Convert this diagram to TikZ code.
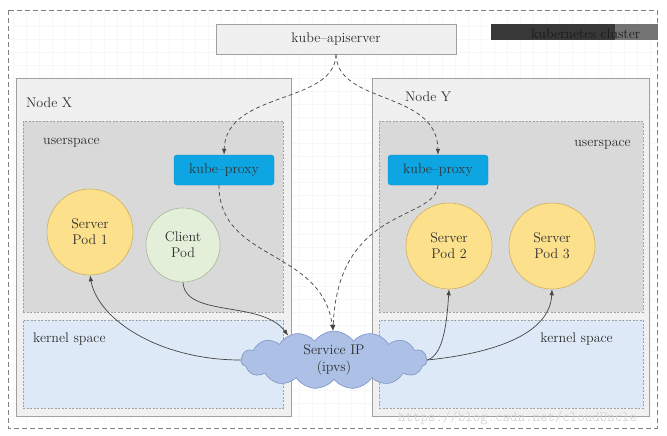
\documentclass[tikz,border=0pt]{standalone}
\usetikzlibrary{shapes.symbols,arrows.meta}
\definecolor{nodefill}{HTML}{F0F0F0}
\definecolor{nodeline}{HTML}{A0A0A0}
\definecolor{userfill}{HTML}{D9D9D9}
\definecolor{kernfill}{HTML}{DDE9F6}
\definecolor{proxyfill}{HTML}{0EA5E3}
\definecolor{proxyline}{HTML}{0B8FCB}
\definecolor{serverfill}{HTML}{FCE08C}
\definecolor{serverline}{HTML}{CDB060}
\definecolor{clientfill}{HTML}{E3EFD9}
\definecolor{clientline}{HTML}{A8B89A}
\definecolor{cloudfill}{HTML}{ADC0E6}
\definecolor{cloudline}{HTML}{7D93C5}
\definecolor{txt}{HTML}{2E2E2E}
\definecolor{arr}{HTML}{444444}
\definecolor{gridc}{HTML}{F6F7F9}
\begin{document}
\begin{tikzpicture}[x=1pt,y=-1pt,
  font=\fontsize{14}{16}\selectfont, text=txt,
  nodebox/.style={draw=nodeline, fill=nodefill, line width=0.6pt, inner sep=0pt},
  userbox/.style={draw=nodeline, fill=userfill, dashed, dash pattern=on 2pt off 1.5pt, line width=0.5pt, inner sep=0pt},
  kernbox/.style={draw=nodeline, fill=kernfill, dashed, dash pattern=on 2pt off 1.5pt, line width=0.5pt, inner sep=0pt},
  proxybox/.style={draw=proxyline, fill=proxyfill, rounded corners=3pt, minimum width=100pt, minimum height=30pt, inner sep=0pt, text=black!80},
  serverpod/.style={circle, draw=serverline, fill=serverfill, minimum size=86pt, inner sep=0pt, align=center, line width=0.6pt},
  clientpod/.style={circle, draw=clientline, fill=clientfill, minimum size=74pt, inner sep=0pt, align=center, line width=0.6pt},
  lbl/.style={anchor=base west, inner sep=0pt},
  flow/.style={draw=arr, line width=0.7pt, -{Latex[length=6pt,width=4.5pt]}},
  ctrl/.style={flow, dash pattern=on 4pt off 3pt}
]
\useasboundingbox (0,0) rectangle (667,436);
\fill[white] (0,0) rectangle (667,436);
\draw[gridc, line width=0.4pt, step=13pt] (8,10) grid (657,428);
\draw[nodeline!80!black, line width=0.9pt, dash pattern=on 5pt off 3pt] (8,10) rectangle (657,428);

% cluster label
\fill[black!78] (491,24) rectangle (615,40);
\fill[black!55] (615,24) rectangle (658,40);
\node[lbl, text=black!90] (cluster) at (531,39) {kubernetes cluster};

% api server
\node[nodebox, fill=nodefill, minimum width=240pt, minimum height=30pt] (api) at (336,39) {kube--apiserver};

% node boxes
\node[nodebox, minimum width=275pt, minimum height=338pt] (nodeX) at (153.5,247) {};
\node[nodebox, minimum width=277pt, minimum height=338pt] (nodeY) at (511,247) {};
\node[lbl] (nxl) at (26,107) {Node X};
\node[lbl] (nyl) at (405,101) {Node Y};

% user / kernel spaces
\node[userbox, minimum width=260pt, minimum height=191pt] (usX) at (153,216.5) {};
\node[kernbox, minimum width=260pt, minimum height=88pt] (ksX) at (153,364) {};
\node[userbox, minimum width=264pt, minimum height=191pt] (usY) at (511,216.5) {};
\node[kernbox, minimum width=264pt, minimum height=88pt] (ksY) at (511,364) {};
\node[lbl] (usXl) at (43,144) {userspace};
\node[lbl] (ksXl) at (33,342) {kernel space};
\node[lbl, anchor=base east] (usYl) at (631,146) {userspace};
\node[lbl, anchor=base east] (ksYl) at (613,342) {kernel space};

% kube-proxy
\node[proxybox] (proxyX) at (224,170) {kube--proxy};
\node[proxybox] (proxyY) at (438,170) {kube--proxy};

% pods
\node[serverpod] (pod1) at (90,232) {Server\\Pod 1};
\node[clientpod] (client) at (183,245) {Client\\Pod};
\node[serverpod] (pod2) at (449,246) {Server\\Pod 2};
\node[serverpod] (pod3) at (552,246) {Server\\Pod 3};

% service IP cloud
\node[cloud, cloud puffs=15, cloud puff arc=110, aspect=3.4, draw=cloudline, fill=cloudfill,
      minimum width=186pt, minimum height=54pt, inner sep=0pt, align=center, line width=0.6pt]
      (svc) at (334,360) {Service IP\\[1pt](ipvs)};

% watermark
\node[lbl, text=black!16, font=\ttfamily\fontsize{14.5}{14.5}\selectfont] (wm) at (398,421) {https://blog.csdn.net/cloudUncle};

% control (dashed) arrows
\draw[ctrl] (api.south) .. controls (335,105) and (226,90) .. (proxyX.north);
\draw[ctrl] (api.south) .. controls (337,105) and (437,90) .. (proxyY.north);
\draw[ctrl] ([xshift=-5pt]proxyX.south) .. controls (219,262) and (322,248) .. ([xshift=-1pt]svc.north);
\draw[ctrl] (proxyY.south) .. controls (435,222) and (338,205) .. ([xshift=-1pt]svc.north);

% traffic arrows
\draw[flow] (client.south) .. controls (185,318) and (262,300) .. (svc.152);
\draw[flow] (svc.west) .. controls (160,360) and (98,320) .. (pod1.south);
\draw[flow] (svc.east) .. controls (444,355) and (447,320) .. (pod2.south);
\draw[flow] (svc.east) .. controls (505,352) and (550,330) .. (pod3.south);
\end{tikzpicture}
\end{document}
